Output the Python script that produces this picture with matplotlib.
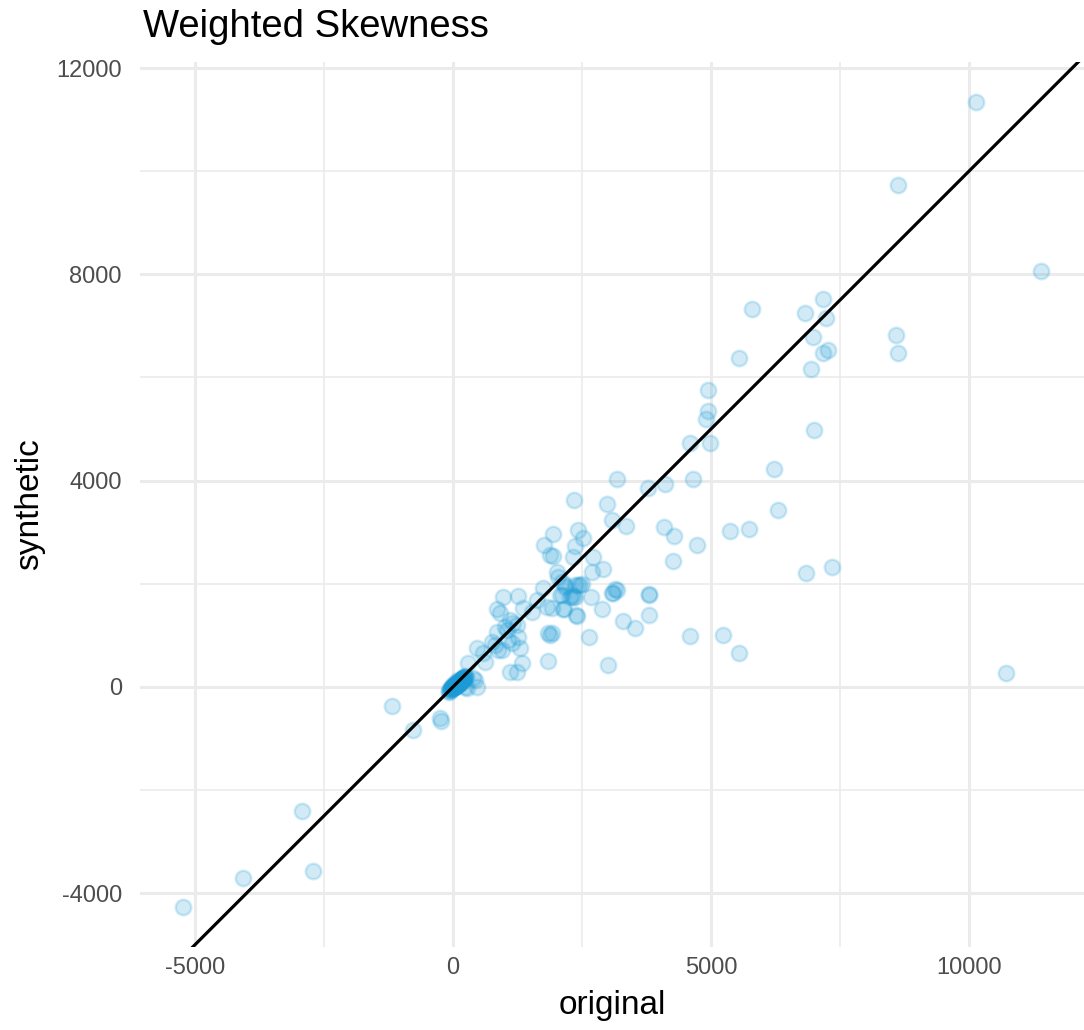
import matplotlib
matplotlib.use("Agg")
import matplotlib.pyplot as plt
import numpy as np

plt.rcParams['font.family'] = ['Liberation Sans', 'DejaVu Sans']
plt.rcParams['axes.unicode_minus'] = False

# original vs synthetic weighted skewness
original = [
    10717, 11395, 10135, 8624, 8585, 8624, 7171, 5795, 6822, 7229, 6977, 7171, 7267,
    5543, 6938, 4942, 4942, 4903, 4593, 4981, 6996, 6221, 6298, 3178, 3779, 4109,
    4651, 2345, 2984, 3081, 3353, 4089, 4283, 4729, 5368, 5736, 4264, 6841, 7345,
    2422, 2519, 2364, 2326, 2713, 2694, 2907, 3140, 3081, 3798, 2674, 3101, 3178,
    3798, 2888, 3798, 3295, 3527, 2636, 4593, 5233, 5543, 3004, 2151, 2384, 2171,
    2364, 2461, 2074, 2267, 2364, 1938, 1764, 1880, 1938, 2016, 2035, 2112, 2171,
    2422, 2500, 2306, 2326, 2112, 2132, 1919, 1822, 1744, 1628, 1260, 969, 1357,
    1531, 2403, 853, 911, 1105, 1163, 1008, 1047, 1240, 1260, 1066, 1143, 1298,
    853, 756, 814, 950, 872, 465, 581, 620, 291, 1841, 1919, 1880, 1841, 1337,
    1105, 1240, 388, 426, 465, 271, 233, -1182, -252, -775, -233, -2926, -2713,
    -4070, -5233,
    # dense cluster near the origin
    -60, -30, 0, 20, 40, 60, 80, 100, 120, 150, 180, 210, 240, 10, 50, 90, 130,
    170, -20, 30, 70, 110, 160, 200, -80, -40, -10, 15, 35, 55, 75, 95, 115, 140,
    165, 190, 220, 250, 5, 45, 85, 125, 60, 100,
    -70, -50, -25, 0, 25, 50, 75, 100, 125, 150, 175, 200, 225, 0, 40, 80, 120,
    160, 200, 20, 60, 100, 140, 180,
]
synthetic = [
    271, 8062, 11337, 9729, 6822, 6473, 7519, 7326, 7248, 7151, 6783, 6473, 6531,
    6376, 6163, 5756, 5349, 5194, 4729, 4729, 4981, 4225, 3430, 4031, 3857, 3934,
    4031, 3624, 3547, 3236, 3120, 3101, 2926, 2752, 3023, 3062, 2442, 2209, 2326,
    3043, 2888, 2733, 2519, 2519, 2229, 2287, 1899, 1822, 1802, 1744, 1822, 1880,
    1783, 1512, 1395, 1279, 1143, 969, 988, 1008, 659, 426, 1512, 1395, 1977,
    1977, 1977, 1783, 1744, 1744, 2965, 2752, 2558, 2539, 2229, 2132, 2035, 1938,
    1977, 1996, 1783, 1744, 1783, 1512, 1531, 1550, 1919, 1686, 1763, 1744, 1531,
    1453, 1376, 1512, 1434, 1298, 1240, 1163, 1105, 1202, 969, 911, 853, 756,
    1066, 872, 814, 717, 717, 756, 659, 484, 465, 1047, 1047, 1008, 504, 465,
    291, 291, 174, 136, 0, -19, 0, -368, -601, -833, -659, -2403, -3566,
    -3702, -4264,
    -50, -20, 0, 10, 30, 50, 60, 80, 100, 130, 160, 190, 220, 20, 40, 70, 110,
    140, -10, 10, 50, 90, 120, 170, -90, -60, -30, -5, 20, 40, 70, 30, 60, 110,
    90, 150, 180, 200, 30, 0, 40, 70, 100, 140,
    -80, -40, -40, -20, 10, 20, 60, 60, 100, 120, 160, 170, 200, 40, 10, 50, 90,
    110, 150, -10, 30, 80, 100, 130,
]

fig = plt.figure(figsize=(10.84, 10.30), dpi=100)
ax = fig.add_axes([140 / 1084, (1030 - 947) / 1030, 944 / 1084, 885 / 1030])

ax.scatter(original, synthetic, s=125, color='#1b9ad6', alpha=0.2, linewidths=1.8, zorder=3)
ax.axline((0, 0), slope=1, color='black', lw=2.3, zorder=4)

ax.set_xlim(-6066, 12229)
ax.set_ylim(-5044, 12117)

ax.set_xticks([-5000, 0, 5000, 10000])
ax.set_xticks([-2500, 2500, 7500], minor=True)
ax.set_yticks([-4000, 0, 4000, 8000, 12000])
ax.set_yticks([-2000, 2000, 6000, 10000], minor=True)
ax.grid(which='major', color='#ebebeb', lw=2.2, zorder=0)
ax.grid(which='minor', color='#ebebeb', lw=1.2, zorder=0)
ax.set_axisbelow(True)
for s in ax.spines.values():
    s.set_visible(False)
ax.tick_params(which='both', length=0, labelsize=17, labelcolor='#4d4d4d')
ax.tick_params(axis='y', pad=13)
ax.tick_params(axis='x', pad=7)

ax.set_xlabel('original', fontsize=24, labelpad=8)
ax.set_ylabel('synthetic', fontsize=24, labelpad=8)
fig.text(143 / 1084, 1 - 27 / 1030, 'Weighted Skewness', fontsize=27.5, va='center', ha='left')

fig.savefig('out.png', dpi=100)
